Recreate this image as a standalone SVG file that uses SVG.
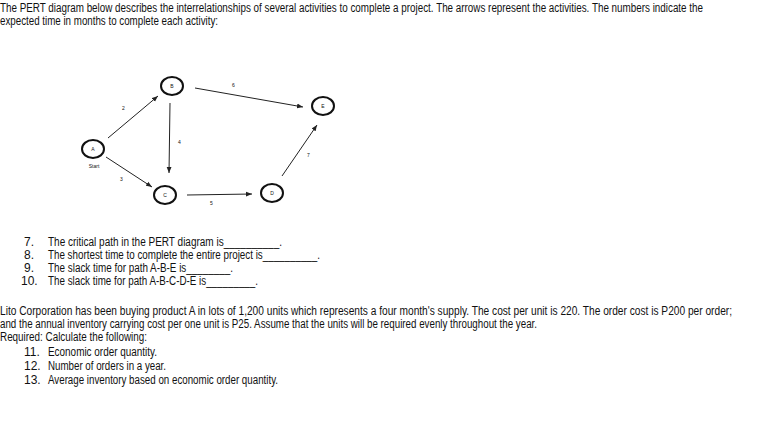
<svg xmlns="http://www.w3.org/2000/svg" width="766" height="421" viewBox="0 0 766 421">
<style>
text{font-family:"Liberation Sans",Arial,sans-serif;fill:#111}
.t{font-size:12px}
.n{font-size:5px}
.l{font-size:5px}
.node ellipse{fill:#fff;stroke:#111;stroke-width:2}
.edge{stroke:#222;stroke-width:1;fill:none;marker-end:url(#ah)}
</style>
<defs><marker id="ah" viewBox="0 0 10 10" refX="10" refY="5" markerWidth="6" markerHeight="6" orient="auto"><path d="M0,1 L10,5 L0,9 z" fill="#222"/></marker></defs>
<rect width="766" height="421" fill="#fff"/>
<text class="t" x="0" y="12" textLength="703" lengthAdjust="spacingAndGlyphs">The PERT diagram below describes the interrelationships of several activities to complete a project. The arrows represent the activities. The numbers indicate the</text>
<text class="t" x="0" y="25" textLength="218" lengthAdjust="spacingAndGlyphs">expected time in months to complete each activity:</text>
<g id="connectors">
<line class="edge" x1="108" y1="138" x2="158" y2="96"/>
<line class="edge" x1="195" y1="88" x2="303" y2="107"/>
<line class="edge" x1="170" y1="103" x2="169" y2="173"/>
<line class="edge" x1="106" y1="157" x2="152" y2="187"/>
<line class="edge" x1="187" y1="195" x2="252" y2="194"/>
<line class="edge" x1="282" y1="176" x2="317" y2="125"/>
<text class="l" x="122" y="110">2</text>
<text class="l" x="232" y="87">6</text>
<text class="l" x="178" y="144">4</text>
<text class="l" x="120" y="181">3</text>
<text class="l" x="210" y="205">5</text>
<text class="l" x="307" y="157">7</text>
</g>
<g id="A" class="node"><ellipse cx="93" cy="149" rx="11" ry="9"/><text class="n" x="93" y="151" text-anchor="middle">A</text><text class="n" x="94" y="168" text-anchor="middle">Start</text></g>
<g id="B" class="node"><ellipse cx="172" cy="86" rx="11" ry="9"/><text class="n" x="172" y="88" text-anchor="middle">B</text></g>
<g id="C" class="node"><ellipse cx="165" cy="195" rx="11" ry="9"/><text class="n" x="165" y="197" text-anchor="middle">C</text></g>
<g id="D" class="node"><ellipse cx="272" cy="193" rx="11" ry="9"/><text class="n" x="272" y="195" text-anchor="middle">D</text></g>
<g id="E" class="node"><ellipse cx="323" cy="106" rx="11" ry="9"/><text class="n" x="323" y="108" text-anchor="middle">E</text></g>
<text class="t" x="24" y="246">7.</text><text class="t" x="48" y="246" textLength="234" lengthAdjust="spacingAndGlyphs">The critical path in the PERT diagram is__________.</text>
<text class="t" x="24" y="259">8.</text><text class="t" x="48" y="259" textLength="272" lengthAdjust="spacingAndGlyphs">The shortest time to complete the entire project is__________.</text>
<text class="t" x="24" y="272">9.</text><text class="t" x="48" y="272" textLength="185" lengthAdjust="spacingAndGlyphs">The slack time for path A-B-E is________.</text>
<text class="t" x="21" y="285">10.</text><text class="t" x="48" y="285" textLength="210" lengthAdjust="spacingAndGlyphs">The slack time for path A-B-C-D-E is_________.</text>
<text class="t" x="0" y="315" textLength="732" lengthAdjust="spacingAndGlyphs">Lito Corporation has been buying product A in lots of 1,200 units which represents a four month's supply. The cost per unit is 220. The order cost is P200 per order;</text>
<text class="t" x="0" y="328" textLength="537" lengthAdjust="spacingAndGlyphs">and the annual inventory carrying cost per one unit is P25. Assume that the units will be required evenly throughout the year.</text>
<text class="t" x="0" y="341" textLength="147" lengthAdjust="spacingAndGlyphs">Required: Calculate the following:</text>
<text class="t" x="24" y="356">11.</text><text class="t" x="48" y="356" textLength="109" lengthAdjust="spacingAndGlyphs">Economic order quantity.</text>
<text class="t" x="24" y="370">12.</text><text class="t" x="48" y="370" textLength="118" lengthAdjust="spacingAndGlyphs">Number of orders in a year.</text>
<text class="t" x="24" y="384">13.</text><text class="t" x="48" y="384" textLength="230" lengthAdjust="spacingAndGlyphs">Average inventory based on economic order quantity.</text>
</svg>
